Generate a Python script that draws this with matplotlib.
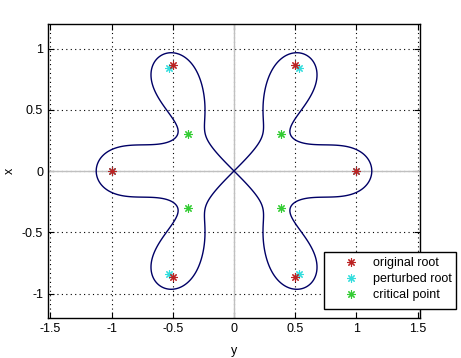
import matplotlib
matplotlib.use("Agg")
import matplotlib.pyplot as plt
from matplotlib.patches import Rectangle
import numpy as np

orig_re = [1.0, 0.5, -0.5, -1.0, -0.5, 0.5]
orig_im = [0.0, 0.866, 0.866, 0.0, -0.866, -0.866]

pert_re = [1.0, 0.533, -0.533, -1.0, -0.533, 0.533]
pert_im = [0.0, 0.84, 0.84, 0.0, -0.84, -0.84]

crit_re = [0.38, -0.38, -0.38, 0.38]
crit_im = [0.305, 0.305, -0.305, -0.305]

x_ticks = [-1.5, -1, -0.5, 0, 0.5, 1, 1.5]
y_ticks = [-1, -0.5, 0, 0.5, 1]

plt.rcParams["font.family"] = ["Liberation Sans", "DejaVu Sans"]
plt.rcParams["font.size"] = 9

W, H = 461, 358
fig = plt.figure(figsize=(W / 100, H / 100), dpi=100)
ax = fig.add_axes([48 / W, 1 - 318 / H, (420 - 48) / W, (318 - 24) / H])

# level curve |p(z)| = |p(0)| of the perturbed polynomial
roots = np.array(pert_re) + 1j * np.array(pert_im)
gx, gy = np.meshgrid(np.linspace(-1.6, 1.6, 801), np.linspace(-1.3, 1.3, 651))
zz = gx + 1j * gy
pz = np.ones_like(zz)
for r in roots:
    pz = pz * (zz - r)
level = np.abs(np.prod(-roots))
ax.contour(gx, gy, np.abs(pz), levels=[level], colors="#000066", linewidths=1.0, zorder=3)

ax.axhline(0, color="#c0c0c0", lw=1.0, zorder=1)
ax.axvline(0, color="#c0c0c0", lw=1.0, zorder=1)

star = (8, 2, 0)
ax.plot(pert_re, pert_im, ls="none", marker=star, ms=6, mew=0.8,
        color="#33dddd", label="perturbed root", zorder=4)
ax.plot(orig_re, orig_im, ls="none", marker=star, ms=6, mew=0.8,
        color="#bb2222", label="original root", zorder=5)
ax.plot(crit_re, crit_im, ls="none", marker=star, ms=6, mew=0.8,
        color="#33cc33", label="critical point", zorder=4)

ax.set_xlim(-1.52, 1.52)
ax.set_ylim(-1.2, 1.2)
ax.set_xticks(x_ticks)
ax.set_xticklabels(["-1.5", "-1", "-0.5", "0", "0.5", "1", "1.5"])
ax.set_yticks(y_ticks)
ax.set_yticklabels(["-1", "-0.5", "0", "0.5", "1"])
ax.tick_params(direction="in", length=4, width=0.8, top=True, right=True)
for sp in ax.spines.values():
    sp.set_linewidth(1.0)

ax.grid(True, color="black", linestyle=(0, (1, 3)), linewidth=0.8, zorder=0)
ax.set_axisbelow(True)

ax.set_xlabel("y", labelpad=7)
ax.set_ylabel("x", labelpad=4)

# legend entries without frame, frame drawn as a box like MATLAB's
h, l = ax.get_legend_handles_labels()
order = [1, 0, 2]
leg = fig.legend([h[i] for i in order], [l[i] for i in order],
                 loc="upper left", bbox_to_anchor=(338.5 / W, 1 - 257 / H),
                 frameon=False, borderpad=0, borderaxespad=0,
                 handlelength=2.0, handletextpad=0.76,
                 labelspacing=0.33, fontsize=9)
fig.add_artist(Rectangle((324 / W, 1 - 309 / H), 132 / W, 57 / H,
                         transform=fig.transFigure, facecolor="white",
                         edgecolor="black", linewidth=1.0, zorder=leg.get_zorder() - 0.1))

fig.savefig("out.png", dpi=100)
